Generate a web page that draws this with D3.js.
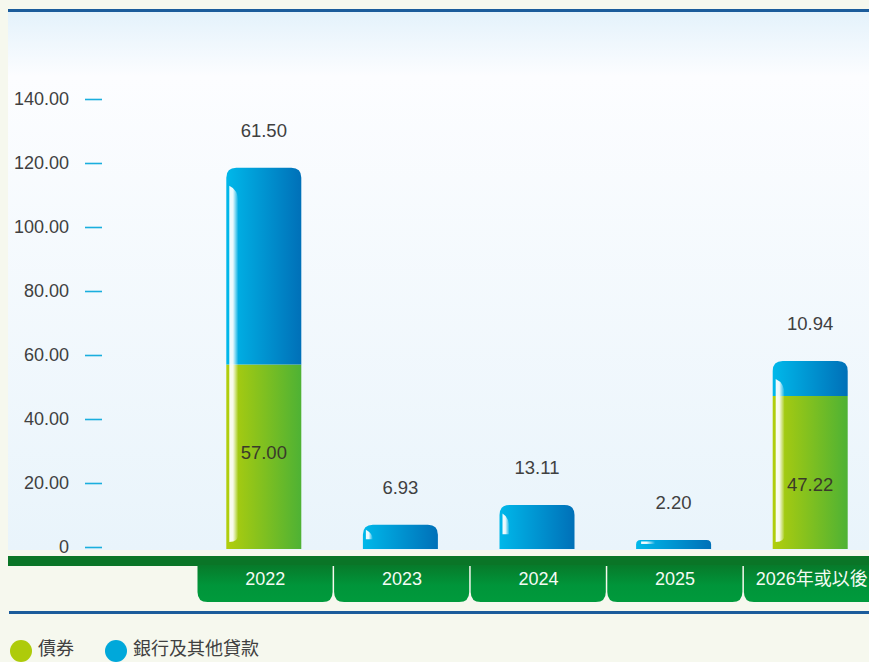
<!DOCTYPE html>
<html>
<head>
<meta charset="utf-8">
<script src="https://cdn.jsdelivr.net/npm/d3@7"></script>
<style>
  html, body { margin: 0; padding: 0; background: #f6f8ee; }
  svg { display: block; }
</style>
</head>
<body>
<svg id="chart"></svg>
<script>
// data
var years  = ["2022", "2023", "2024", "2025", "2026年或以後"];
var bonds  = [57.00, 0, 0, 0, 47.22];      // 債券
var loans  = [61.50, 6.93, 13.11, 2.20, 10.94];  // 銀行及其他貸款
var yTicks = [0, 20, 40, 60, 80, 100, 120, 140];
var seriesNames = ["債券", "銀行及其他貸款"];

var width = 869, height = 662;

var svg = d3.select("#chart")
    .attr("width", width)
    .attr("height", height);

var defs = svg.append("defs");

// panel background gradient
var bg = defs.append("linearGradient").attr("id", "panelBg")
    .attr("x1", 0).attr("y1", 0).attr("x2", 0).attr("y2", 1);
bg.append("stop").attr("offset", "0%").attr("stop-color", "#e4f2fb");
bg.append("stop").attr("offset", "12%").attr("stop-color", "#fcfdff");
bg.append("stop").attr("offset", "100%").attr("stop-color", "#e9f4fb");

// bar gradients
function hGrad(id, c1, c2) {
    var g = defs.append("linearGradient").attr("id", id)
        .attr("x1", 0).attr("y1", 0).attr("x2", 1).attr("y2", 0);
    g.append("stop").attr("offset", "0%").attr("stop-color", c1);
    g.append("stop").attr("offset", "100%").attr("stop-color", c2);
}
hGrad("gBlue", "#00b8ea", "#0070b8");
hGrad("gGreen", "#b2ce0c", "#4eb234");

var hl = defs.append("linearGradient").attr("id", "gHi")
    .attr("x1", 0).attr("y1", 0).attr("x2", 1).attr("y2", 0);
hl.append("stop").attr("offset", "0%").attr("stop-color", "#ffffff").attr("stop-opacity", 0.95);
hl.append("stop").attr("offset", "40%").attr("stop-color", "#ffffff").attr("stop-opacity", 0.92);
hl.append("stop").attr("offset", "100%").attr("stop-color", "#ffffff").attr("stop-opacity", 0);

var tabG = defs.append("linearGradient").attr("id", "gTab")
    .attr("x1", 0).attr("y1", 0).attr("x2", 0).attr("y2", 1);
tabG.append("stop").attr("offset", "0%").attr("stop-color", "#077a2a");
tabG.append("stop").attr("offset", "55%").attr("stop-color", "#00953a");
tabG.append("stop").attr("offset", "100%").attr("stop-color", "#009a3c");

// panel
svg.append("rect")
    .attr("x", 8).attr("y", 12)
    .attr("width", width - 8).attr("height", 538)
    .attr("fill", "url(#panelBg)");

svg.append("rect")
    .attr("x", 8).attr("y", 9)
    .attr("width", width - 8).attr("height", 3)
    .attr("fill", "#1b5c9b");

// scales
var x = d3.scaleBand()
    .domain(years)
    .range([197, 880])
    .padding(0);

var y = d3.scaleLinear()
    .domain([0, 140])
    .range([547, 99]);

// y axis
var yAxis = svg.append("g")
    .attr("transform", "translate(102,0)")
    .call(d3.axisLeft(y).tickValues(yTicks).tickSize(17).tickPadding(16)
        .tickFormat(function(d) { return d === 0 ? "0" : d3.format(".2f")(d); }));
yAxis.select(".domain").remove();
yAxis.selectAll(".tick line").attr("stroke", "#1aaede").attr("stroke-width", 1.6);
yAxis.selectAll(".tick text")
    .attr("fill", "#404040")
    .style("font-family", "'Liberation Sans', Arial, sans-serif")
    .style("font-size", "18px");

// green band and tabs
svg.append("rect")
    .attr("x", 8).attr("y", 556)
    .attr("width", width - 8).attr("height", 10)
    .attr("fill", "#0a7527");

function tabPath(x0, w, y0, h, r) {
    return "M" + x0 + "," + y0 +
        "H" + (x0 + w) +
        "V" + (y0 + h - r) +
        "Q" + (x0 + w) + "," + (y0 + h) + " " + (x0 + w - r) + "," + (y0 + h) +
        "H" + (x0 + r) +
        "Q" + x0 + "," + (y0 + h) + " " + x0 + "," + (y0 + h - r) + "Z";
}

var tabs = svg.append("g");
tabs.selectAll("path")
    .data(years)
    .enter().append("path")
        .attr("d", function(d) { return tabPath(x(d) + 0.5, x.bandwidth() - 1.5, 565, 37, 10); })
        .attr("fill", "url(#gTab)");

var xAxis = svg.append("g")
    .attr("transform", "translate(0,565)")
    .call(d3.axisBottom(x).tickSize(0).tickPadding(4));
xAxis.select(".domain").remove();
xAxis.selectAll(".tick text")
    .attr("fill", "#f4fbf4")
    .attr("dy", "0.9em")
    .style("font-family", "'Liberation Sans', 'Noto Sans CJK TC', sans-serif")
    .style("font-size", "18px");

// bottom rule
svg.append("rect")
    .attr("x", 9).attr("y", 611)
    .attr("width", width - 9).attr("height", 3)
    .attr("fill", "#1b5c9b");

// stacked bars
var rows = years.map(function(yr, i) { return {year: yr, bonds: bonds[i], loans: loans[i]}; });
var stacked = d3.stack().keys(["bonds", "loans"])(rows);
var fills = {bonds: "url(#gGreen)", loans: "url(#gBlue)"};
var barW = 75;

function barX(d) { return x(d.data.year) + x.bandwidth() / 2 - barW / 2 - 1.5; }

function roundTop(x0, y0, w, h, r) {
    r = Math.min(r, h / 2);
    return "M" + x0 + "," + (y0 + h) +
        "V" + (y0 + r) +
        "Q" + x0 + "," + y0 + " " + (x0 + r) + "," + y0 +
        "H" + (x0 + w - r) +
        "Q" + (x0 + w) + "," + y0 + " " + (x0 + w) + "," + (y0 + r) +
        "V" + (y0 + h) + "Z";
}

var bars = svg.append("g");
bars.selectAll("g")
    .data(stacked)
    .enter().append("g")
        .attr("fill", function(s) { return fills[s.key]; })
        .selectAll("path")
        .data(function(s) { return s.filter(function(d) { return d[1] > d[0]; }).map(function(d) { d.key = s.key; return d; }); })
        .enter().append("path")
            .attr("d", function(d) {
                var top = y(d[1]), h = y(d[0]) - y(d[1]) + (d[0] === 0 ? 2 : 0);
                var r = d.key === "loans" ? 10 : 0;
                return roundTop(barX(d), top, barW, h, r);
            });

// glossy highlight along left edge
var tops = stacked[1];
bars.selectAll("path.hi")
    .data(tops)
    .enter().append("path")
        .attr("class", "hi")
        .attr("fill", "url(#gHi)")
        .attr("d", function(d) {
            var top = y(d[1]), bot = y(0) - 3, h = bot - top;
            var x0 = barX(d) + 3;
            if (h < 12) {
                var yy = top + 1.5;
                return "M" + (x0 + 2) + "," + yy + "H" + (x0 + 16) + "V" + (yy + 2.5) + "H" + (x0 + 2) + "Z";
            }
            var off = h > 60 ? 18 : Math.max(5, h * 0.22);
            var y0 = top + off, y1 = h > 60 ? bot - 2 : bot - h * 0.25;
            var w = h > 60 ? 9 : 7;
            return "M" + x0 + "," + y0 +
                "Q" + (x0 + w) + "," + (y0 + 4) + " " + (x0 + w) + "," + (y0 + 16 < y1 ? y0 + 16 : y1) +
                "V" + (y1 - 8 > y0 + 16 ? y1 - 8 : y1) +
                "Q" + (x0 + w) + "," + y1 + " " + x0 + "," + y1 + "Z";
        });

// value labels
var labelFont = "'Liberation Sans', Arial, sans-serif";
svg.append("g").selectAll("text")
    .data(stacked[1])
    .enter().append("text")
        .attr("x", function(d) { return barX(d) + barW / 2; })
        .attr("y", function(d) { return y(d[1]) - 36; })
        .attr("text-anchor", "middle")
        .attr("dominant-baseline", "middle")
        .attr("fill", "#404040")
        .style("font-family", labelFont)
        .style("font-size", "18.5px")
        .text(function(d) { return d3.format(".2f")(d.data.loans); });

svg.append("g").selectAll("text")
    .data(stacked[0].filter(function(d) { return d.data.bonds > 0; }))
    .enter().append("text")
        .attr("x", function(d) { return barX(d) + barW / 2; })
        .attr("y", function(d) { return y(d[1]) + 90; })
        .attr("text-anchor", "middle")
        .attr("dominant-baseline", "middle")
        .attr("fill", "#3a3a2a")
        .style("font-family", labelFont)
        .style("font-size", "18.5px")
        .text(function(d) { return d3.format(".2f")(d.data.bonds); });

// legend
var legendColors = ["#aecb0a", "#00a8da"];
var legendX = [21, 116];
var legend = svg.append("g").selectAll("g")
    .data(seriesNames)
    .enter().append("g")
        .attr("transform", function(d, i) { return "translate(" + legendX[i] + ",651)"; });
legend.append("circle")
    .attr("r", 11)
    .attr("fill", function(d, i) { return legendColors[i]; });
legend.append("text")
    .attr("x", 17)
    .attr("y", -2)
    .attr("dy", "0.35em")
    .attr("fill", "#404040")
    .style("font-family", "'Noto Sans CJK TC', sans-serif")
    .style("font-size", "18px")
    .text(function(d) { return d; });
</script>
</body>
</html>
